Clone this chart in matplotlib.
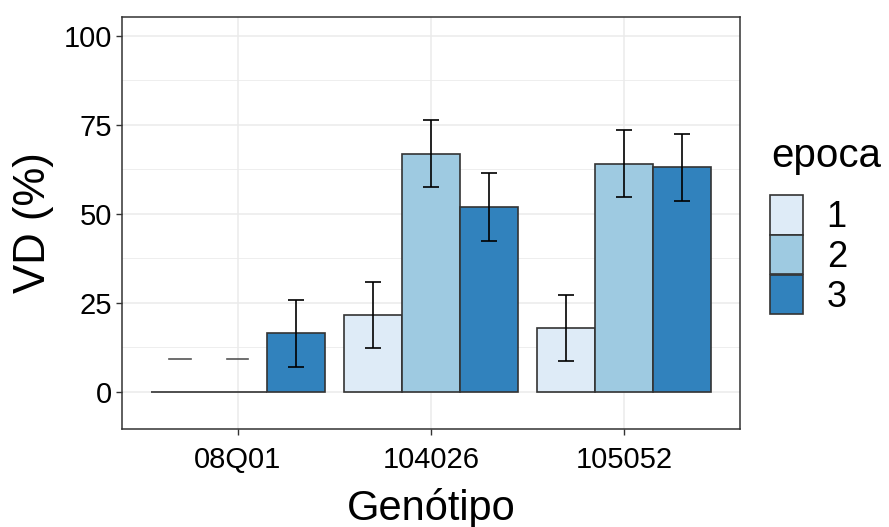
import numpy as np
import matplotlib
matplotlib.use("Agg")
import matplotlib.pyplot as plt
from matplotlib.patches import Patch

plt.rcParams['font.family'] = ['Liberation Sans', 'DejaVu Sans']

genotipos = ['08Q01', '104026', '105052']
epocas = ['1', '2', '3']
# VD (%) por genotipo (linhas) e epoca (colunas)
vd = np.array([
    [0.0, 0.0, 16.4],
    [21.6, 66.9, 51.8],
    [17.9, 64.0, 63.0],
])
ep = np.array([
    [9.2, 9.2, 9.3],
    [9.3, 9.4, 9.5],
    [9.3, 9.4, 9.4],
])
cores = ['#DEEBF7', '#9ECAE1', '#3182BD']

fig = plt.figure(figsize=(8.89, 5.27), dpi=100)
ax = fig.add_axes([122 / 889, 98 / 527, 618 / 889, 412 / 527])

x = np.arange(len(genotipos))
larg = 0.3
for j, ep_nome in enumerate(epocas):
    pos = x + (j - 1) * larg
    ax.bar(pos, vd[:, j], width=larg, color=cores[j], edgecolor='#333333',
           linewidth=1.2, zorder=3)
    for k in range(len(genotipos)):
        if vd[k, j] == 0:
            # sem variacao abaixo de zero: so o limite superior aparece
            ax.plot([pos[k] - 0.055, pos[k] + 0.055], [ep[k, j]] * 2,
                    color='#555555', lw=1.2, zorder=4)
        else:
            ax.errorbar(pos[k], vd[k, j], yerr=ep[k, j], fmt='none',
                        ecolor='black', elinewidth=1.2, capsize=6,
                        capthick=1.2, zorder=4)

ax.set_xlim(-0.6, 2.6)
ax.set_ylim(-10.4, 105.2)
ax.set_xticks(x)
ax.set_xticklabels(genotipos, fontsize=21)
ax.set_yticks([0, 25, 50, 75, 100])
ax.set_yticks([12.5, 37.5, 62.5, 87.5], minor=True)
ax.tick_params(axis='y', labelsize=21)
ax.tick_params(which='major', length=4, width=1, color='#333333', pad=3)
ax.tick_params(axis='x', which='major', pad=8)
ax.tick_params(which='minor', length=0)
ax.tick_params(axis='x', which='minor', bottom=False)

ax.grid(True, which='major', color='#EBEBEB', lw=1.1, zorder=0)
ax.grid(True, which='minor', axis='y', color='#EBEBEB', lw=0.6, zorder=0)
ax.set_axisbelow(True)
for s in ax.spines.values():
    s.set_color('#333333')
    s.set_linewidth(1.1)

ax.set_xlabel('Genótipo', fontsize=30, labelpad=10)
ax.set_ylabel('VD (%)', fontsize=31.5, labelpad=7)

handles = [Patch(facecolor=c, edgecolor='#333333', lw=1.2) for c in cores]
leg = ax.legend(handles, epocas, loc='upper left',
                bbox_to_anchor=(770 / 889, 332 / 527),
                bbox_transform=fig.transFigure, frameon=False,
                fontsize=26, handlelength=0.92,
                handleheight=1.31, labelspacing=0.0, handletextpad=0.65,
                borderaxespad=0, borderpad=0)
fig.text(771 / 889, 1 - 167 / 527, 'epoca', fontsize=29,
         ha='left', va='baseline')

fig.savefig('out.png', dpi=100)
